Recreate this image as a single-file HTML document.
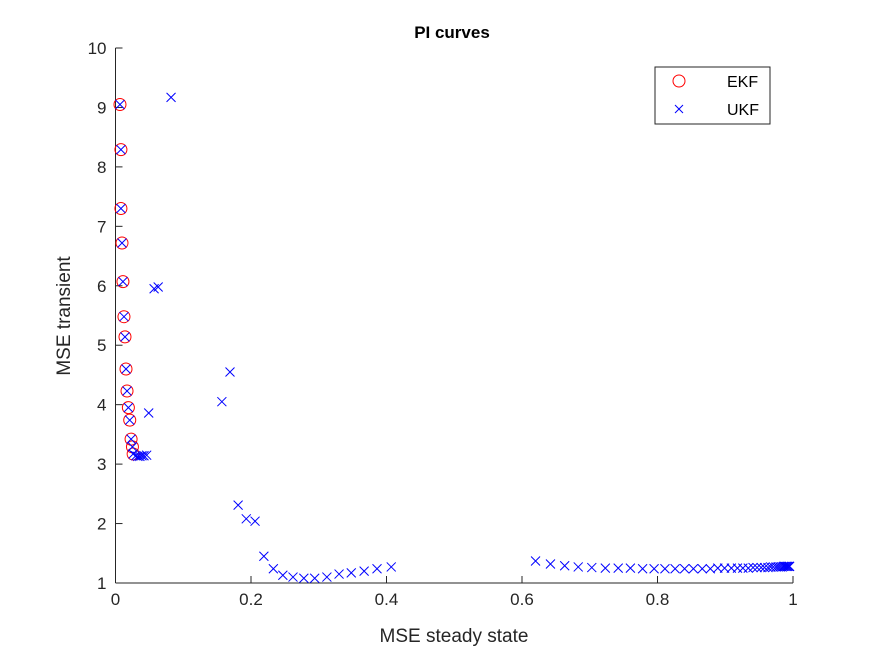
<!DOCTYPE html>
<html><head><meta charset="utf-8"><style>
body{margin:0;background:#fff;}
svg{display:block;font-family:"Liberation Sans",Arial,sans-serif;}
</style></head><body>
<svg id="c" width="875" height="656">
<rect width="875" height="656" fill="#fff"/>
<g id="axes"></g><g id="marks"></g>
<text x="452" y="38" text-anchor="middle" font-size="17" font-weight="bold" fill="#000">PI curves</text>
<text x="454" y="642" text-anchor="middle" font-size="19" fill="#262626">MSE steady state</text>
<text transform="translate(70,316) rotate(-90)" text-anchor="middle" font-size="19" fill="#262626">MSE transient</text>
<g>
<rect x="655" y="67" width="115" height="57" fill="#fff" stroke="#262626" stroke-width="1"/>
<circle cx="679" cy="81" r="6" fill="none" stroke="#f00"/>
<text x="727" y="87" font-size="16" fill="#000">EKF</text>
<path d="M675,105 l8,8 M683,105 l-8,8" stroke="#00f"/>
<text x="727" y="115" font-size="16" fill="#000">UKF</text>
</g>
</svg>
<script>
const xTicks=[0,0.2,0.4,0.6,0.8,1];
const xTickLabels=["0","0.2","0.4","0.6","0.8","1"];
const yTicks=[1,2,3,4,5,6,7,8,9,10];
const yTickLabels=["1","2","3","4","5","6","7","8","9","10"];
const ekfX=[0.0066,0.008,0.008,0.0096,0.011,0.0125,0.014,0.0155,0.017,0.019,0.021,0.023,0.025,0.026];
const ekfY=[9.05,8.29,7.30,6.72,6.07,5.48,5.14,4.60,4.23,3.95,3.74,3.42,3.29,3.17];
const ukfX=[0.0066,0.008,0.008,0.0096,0.011,0.0125,0.014,0.0155,0.017,0.019,0.021,0.023,0.025,0.026,
0.030,0.033,0.036,0.039,0.042,0.046,0.082,0.057,0.063,0.049,0.157,0.169,0.181,0.193,0.206,
0.219,0.233,0.247,0.262,0.278,0.294,0.312,0.330,0.348,0.367,0.386,0.407,
0.62,0.642,0.663,0.683,0.703,0.723,0.742,0.760,0.778,0.795,0.811,0.826,0.840,0.853,0.866,0.878,0.889,0.899,0.909,0.918,0.926,0.934,0.941,0.947,0.953,0.958,0.963,0.967,0.971,0.975,0.978,0.981,0.984,0.986,0.988,0.990,0.992,0.994,0.995];
const ukfY=[9.05,8.29,7.30,6.72,6.07,5.48,5.14,4.60,4.23,3.95,3.74,3.42,3.29,3.17,
3.14,3.13,3.13,3.14,3.14,3.15,9.17,5.95,5.98,3.86,4.05,4.55,2.31,2.08,2.04,
1.45,1.24,1.13,1.10,1.08,1.08,1.10,1.15,1.17,1.20,1.24,1.27,
1.37,1.32,1.29,1.27,1.26,1.25,1.25,1.25,1.24,1.24,1.24,1.24,1.24,1.24,1.24,1.24,1.25,1.25,1.25,1.25,1.25,1.25,1.26,1.26,1.26,1.26,1.26,1.27,1.27,1.27,1.27,1.27,1.27,1.28,1.28,1.28,1.28,1.28,1.28];
const X0=115.5,X1=793,Y0=583,Y1=48;
const sx=v=>X0+(X1-X0)*v;
const sy=v=>Y0-(Y0-Y1)*(v-1)/9;
const NS="http://www.w3.org/2000/svg";
const ax=document.getElementById('axes'),mk=document.getElementById('marks');
function mkEl(t,a,p){const e=document.createElementNS(NS,t);for(const k in a)e.setAttribute(k,a[k]);p.appendChild(e);return e;}
let xl=mkEl('line',{x1:X0,y1:Y0,x2:X1,y2:Y0,stroke:'#262626'},ax);


let yl=mkEl('line',{x1:X0,y1:Y0,x2:X0,y2:Y1,stroke:'#262626'},ax);


xTicks.forEach((v,i)=>{const x=sx(v);
mkEl('line',{x1:x,y1:Y0,x2:x,y2:Y0-7,stroke:'#262626'},ax);
const t=mkEl('text',{x:x,y:Y0+22,'text-anchor':'middle','font-size':'17',fill:'#262626'},ax);t.textContent=xTickLabels[i];

});
yTicks.forEach((v,i)=>{const y=sy(v);
mkEl('line',{x1:X0,y1:y,x2:X0+7,y2:y,stroke:'#262626'},ax);
const t=mkEl('text',{x:X0-9,y:y+6,'text-anchor':'end','font-size':'17',fill:'#262626'},ax);t.textContent=yTickLabels[i];

});
ekfX.forEach((v,i)=>{const c=mkEl('circle',{cx:sx(v),cy:sy(ekfY[i]),r:6,fill:'none',stroke:'#f00'},mk);

});
ukfX.forEach((v,i)=>{const x=sx(v),y=sy(ukfY[i]);
const p=mkEl('path',{d:`M${x-4.5},${y-4.5}L${x+4.5},${y+4.5}M${x+4.5},${y-4.5}L${x-4.5},${y+4.5}`,stroke:'#00f','stroke-width':1},mk);

});
</script>
</body></html>
